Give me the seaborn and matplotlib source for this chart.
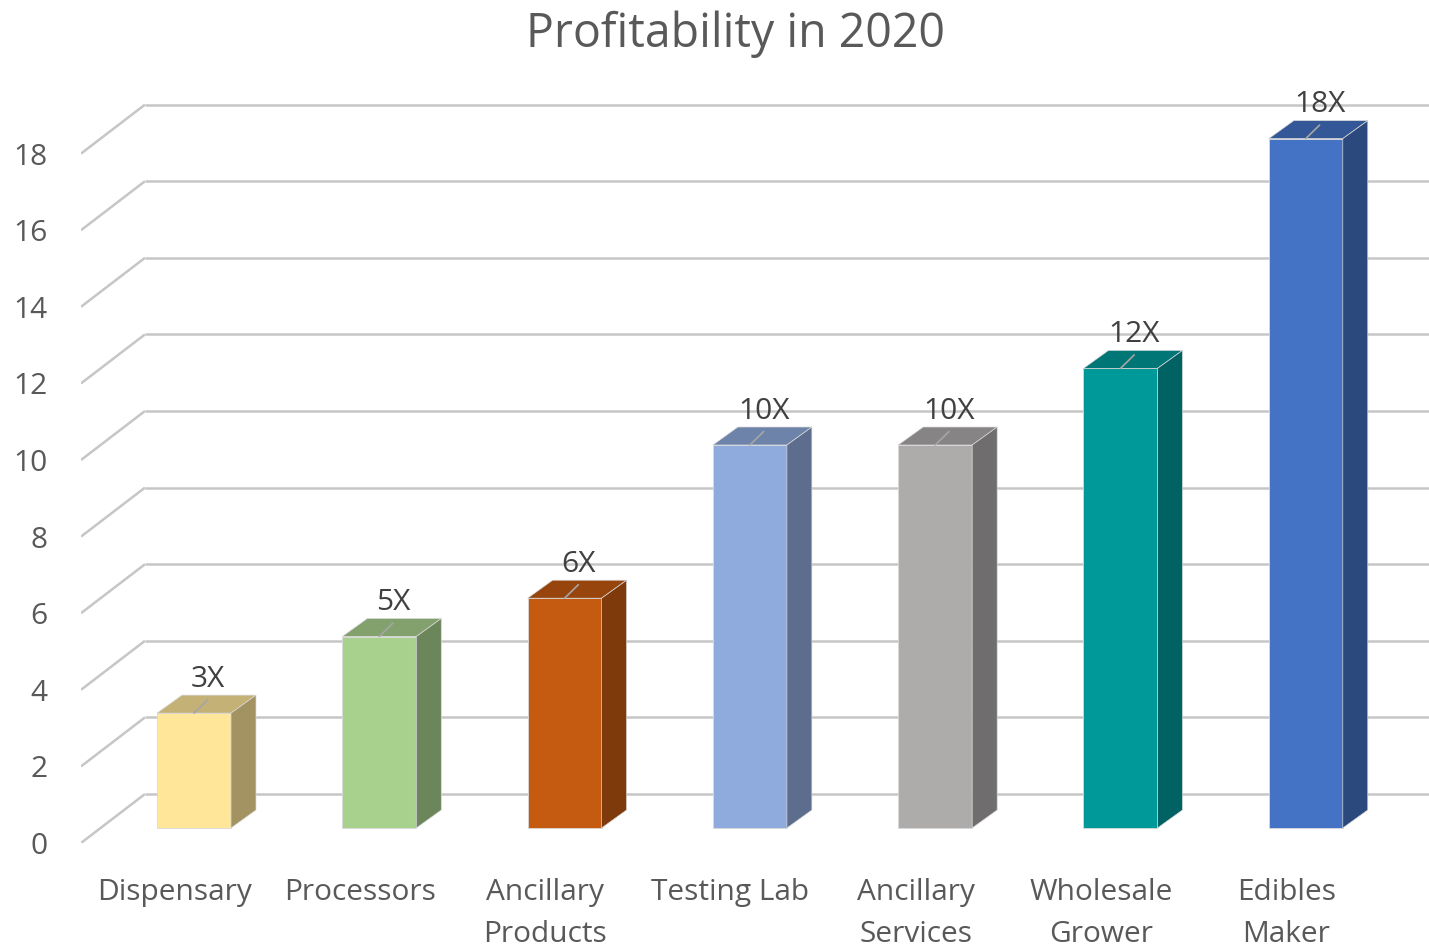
import matplotlib
matplotlib.use("Agg")
import matplotlib.pyplot as plt
from matplotlib.colors import to_rgb
import seaborn as sns
import numpy as np
import pandas as pd

categories = ["Dispensary", "Processors", "Ancillary\nProducts", "Testing Lab",
              "Ancillary\nServices", "Wholesale\nGrower", "Edibles\nMaker"]
values = [3, 5, 6, 10, 10, 12, 18]
value_labels = ["3X", "5X", "6X", "10X", "10X", "12X", "18X"]
front_colors = ["#FFE699", "#A9D18E", "#C55A11", "#8FAADC", "#AEABAB", "#009999", "#4472C4"]
y_ticks = [0, 2, 4, 6, 8, 10, 12, 14, 16, 18]

df = pd.DataFrame({"category": categories, "value": values})

# px -> data units (x: per category, y: per unit value)
PX_X = 185.3
PX_Y = 38.3
depth = np.array([64 / PX_X, 49 / PX_Y])      # floor depth, front to back wall
front_off = -0.306 * depth                     # front plane relative to bar fronts
bar_d = np.array([25 / PX_X, 18 / PX_Y])       # bar depth
bar_w = 74 / PX_X

def shade(c, f):
    return tuple(np.array(to_rgb(c)) * f)

sns.set_style("white")
plt.rcParams['font.family'] = ['Open Sans', 'DejaVu Sans']

fig = plt.figure(figsize=(14.29, 9.47), dpi=100)
ax = fig.add_axes([81 / 1429, (947 - 843) / 947, (1429 - 81) / 1429, 783 / 947])

sns.barplot(data=df, x="category", y="value", hue="category", palette=front_colors,
            width=bar_w, legend=False, saturation=1, ax=ax,
            edgecolor="#d9d9d9", linewidth=0.6, zorder=3)

x0 = -0.6098
x1 = 6.665
grid_col = "#c6c6c6"
for v in y_ticks:
    fx, fy = x0, v + front_off[1]
    bx, by = x0 + depth[0], v + front_off[1] + depth[1]
    ax.plot([fx, bx], [fy, by], color=grid_col, lw=1.8, zorder=1, solid_capstyle="butt")
    ax.plot([bx, x1], [by, by], color=grid_col, lw=1.8, zorder=1, solid_capstyle="butt")

for i, (v, c) in enumerate(zip(values, front_colors)):
    l, r = i - bar_w / 2, i + bar_w / 2
    top = [(l, v), (l + bar_d[0], v + bar_d[1]), (r + bar_d[0], v + bar_d[1]), (r, v)]
    side = [(r, 0), (r + bar_d[0], bar_d[1]), (r + bar_d[0], v + bar_d[1]), (r, v)]
    ax.add_patch(plt.Polygon(top, closed=True, facecolor=shade(c, 0.77),
                             edgecolor="#d9d9d9", lw=0.5, zorder=3))
    ax.add_patch(plt.Polygon(side, closed=True, facecolor=shade(c, 0.64),
                             edgecolor="#d9d9d9", lw=0.5, zorder=3))
    ax.plot([i, i + 0.55 * bar_d[0]], [v, v + 0.75 * bar_d[1]], color="#a6a6a6",
            lw=1.2, zorder=4)
    ax.annotate(value_labels[i], (i, v), xytext=(10, 19), textcoords="offset points",
                ha="center", va="baseline", fontsize=21.5, color="#404040", zorder=5)

ax.set_xlim(x0, x1)
ax.set_ylim(front_off[1], front_off[1] + 783 / PX_Y)
ax.set_xticks(np.arange(len(categories)) + front_off[0], labels=categories)
ax.set_yticks(np.array(y_ticks) + front_off[1], labels=[str(t) for t in y_ticks])
ax.tick_params(axis="both", length=0, labelsize=21.5, labelcolor="#595959")
ax.tick_params(axis="y", pad=24)
ax.tick_params(axis="x", pad=25)
for lab in ax.get_xticklabels():
    lab.set_linespacing(1.6)
ax.set_xlabel("")
ax.set_ylabel("")
sns.despine(ax=ax, left=True, bottom=True)

fig.text(735 / 1429, 1 - 47 / 947, "Profitability in 2020", ha="center", va="baseline",
         fontsize=33.5, color="#595959")

fig.savefig("out.png", dpi=100)
